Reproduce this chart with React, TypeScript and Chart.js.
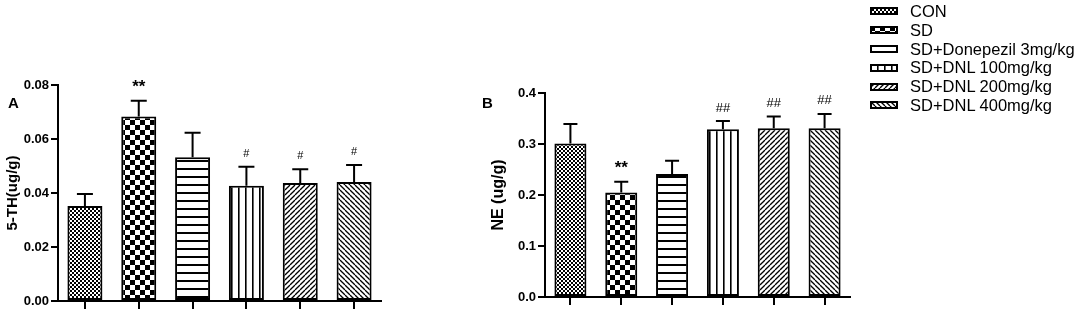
import React, { useEffect, useRef } from 'react';
import { Chart, registerables } from 'chart.js';
Chart.register(...registerables);

const groups = ['CON', 'SD', 'SD+Donepezil 3mg/kg', 'SD+DNL 100mg/kg', 'SD+DNL 200mg/kg', 'SD+DNL 400mg/kg'];
const htMeans = [0.0352, 0.0683, 0.0532, 0.0427, 0.0437, 0.0441];
const htSems = [0.0044, 0.0059, 0.0091, 0.0070, 0.0051, 0.0063];
const htMarks = ['', '**', '', '#', '#', '#'];
const neMeans = [0.301, 0.205, 0.241, 0.329, 0.331, 0.331];
const neSems = [0.038, 0.021, 0.026, 0.016, 0.023, 0.028];
const neMarks = ['', '**', '', '##', '##', '##'];

const FONT = '"Liberation Sans", Arial, sans-serif';

function tile(w: number, h: number, draw: (g: CanvasRenderingContext2D) => void) {
  const c = document.createElement('canvas');
  c.width = w; c.height = h;
  const g = c.getContext('2d')!;
  g.fillStyle = '#fff'; g.fillRect(0, 0, w, h);
  g.fillStyle = '#000'; g.strokeStyle = '#000';
  draw(g);
  return c;
}

function makeTiles() {
  return [
    tile(4, 4, g => { g.fillRect(0, 0, 2, 2); g.fillRect(2, 2, 2, 2); }),
    tile(10, 10, g => { g.fillRect(0, 0, 5, 5); g.fillRect(5, 5, 5, 5); }),
    tile(8, 8, g => { g.fillRect(0, 0, 8, 2); }),
    tile(7, 7, g => { g.fillRect(0, 0, 1.6, 7); }),
    tile(5, 5, g => { g.lineWidth = 1.3; for (const o of [-5, 0, 5]) { g.beginPath(); g.moveTo(o, 5); g.lineTo(o + 5, 0); g.stroke(); } }),
    tile(5, 5, g => { g.lineWidth = 1.3; for (const o of [-5, 0, 5]) { g.beginPath(); g.moveTo(o, 0); g.lineTo(o + 5, 5); g.stroke(); } }),
  ];
}

const errorPlugin = {
  id: 'errbars',
  afterDatasetsDraw(chart: any, _args: any, opts: any) {
    const { ctx } = chart;
    const meta = chart.getDatasetMeta(0);
    const y = chart.scales.y;
    ctx.save();
    ctx.strokeStyle = '#000';
    ctx.lineWidth = 2;
    meta.data.forEach((bar: any, i: number) => {
      const x = bar.x;
      const top = y.getPixelForValue(opts.means[i] + opts.sems[i]);
      ctx.beginPath();
      ctx.moveTo(x, bar.y);
      ctx.lineTo(x, top);
      ctx.moveTo(x - opts.cap / 2, top);
      ctx.lineTo(x + opts.cap / 2, top);
      ctx.stroke();
      const m = opts.marks[i];
      if (m) {
        ctx.fillStyle = '#000';
        ctx.textAlign = 'center';
        ctx.textBaseline = 'middle';
        if (m === '**') {
          ctx.font = `bold 17px ${FONT}`;
          ctx.fillText(m, x, top - 13);
        } else {
          ctx.font = `${m === '#' ? 11 : 13}px ${FONT}`;
          ctx.fillText(m, x, top - 13);
        }
      }
    });
    ctx.restore();
  },
};

function makeChart(canvas: HTMLCanvasElement, cfg: any) {
  const ctx = canvas.getContext('2d')!;
  const tiles = makeTiles();
  const pats = tiles.map(t => ctx.createPattern(t, 'repeat'));
  return new Chart(canvas, {
    type: 'bar',
    data: {
      labels: groups,
      datasets: [{
        data: cfg.means,
        backgroundColor: pats as any,
        borderColor: '#000',
        borderWidth: 2,
        borderSkipped: false,
        barPercentage: cfg.barPct,
        categoryPercentage: 1,
      }],
    },
    options: {
      animation: false,
      responsive: true,
      maintainAspectRatio: false,
      layout: { padding: cfg.padding },
      plugins: {
        legend: { display: false },
        tooltip: { enabled: false },
        errbars: { means: cfg.means, sems: cfg.sems, marks: cfg.marks, cap: cfg.cap },
      } as any,
      scales: {
        x: {
          type: 'category',
          offset: true,
          grid: { display: true, drawOnChartArea: false, drawTicks: true, tickLength: 8, color: '#000', lineWidth: 2, offset: false },
          border: { display: true, color: '#000', width: 2 },
          ticks: { display: false },
        },
        y: {
          min: 0,
          max: cfg.max,
          ticks: {
            stepSize: cfg.step,
            callback: (v: any) => Number(v).toFixed(cfg.dec),
            color: '#000',
            font: { family: FONT, size: 13, weight: 'bold' },
            padding: 2,
          },
          grid: { drawOnChartArea: false, drawTicks: true, tickLength: 7, color: '#000', lineWidth: 2 },
          border: { display: true, color: '#000', width: 2 },
          title: { display: true, text: cfg.title, color: '#000', font: { family: FONT, size: cfg.titleSize, weight: 'bold' }, padding: { top: 4, bottom: 0 } },
          afterFit: (s: any) => { s.width = cfg.yWidth; },
        },
      },
    },
    plugins: [errorPlugin],
  } as any);
}

function Swatch({ idx }: { idx: number }) {
  const ref = useRef<HTMLCanvasElement>(null);
  useEffect(() => {
    const c = ref.current!;
    const g = c.getContext('2d')!;
    const t = makeTiles()[idx];
    g.fillStyle = g.createPattern(t, 'repeat')!;
    g.fillRect(0, 0, 28, 8);
    g.strokeStyle = '#000';
    g.lineWidth = 2;
    g.strokeRect(1, 1, 26, 6);
  }, [idx]);
  return <canvas ref={ref} width={28} height={8} style={{ display: 'block' }} />;
}

export default function App() {
  const refA = useRef<HTMLCanvasElement>(null);
  const refB = useRef<HTMLCanvasElement>(null);
  useEffect(() => {
    document.body.style.margin = '0';
    const a = makeChart(refA.current!, {
      means: htMeans, sems: htSems, marks: htMarks, max: 0.08, step: 0.02, dec: 2,
      title: '5-TH(ug/g)', titleSize: 15, yWidth: 58, barPct: 0.65, cap: 16,
      padding: { top: 85, left: 0, right: 19, bottom: 2 },
    });
    const b = makeChart(refB.current!, {
      means: neMeans, sems: neSems, marks: neMarks, max: 0.4, step: 0.1, dec: 1,
      title: 'NE (ug/g)', titleSize: 16, yWidth: 60, barPct: 0.63, cap: 14,
      padding: { top: 93, left: 0, right: 15, bottom: 6 },
    });
    return () => { a.destroy(); b.destroy(); };
  }, []);
  return (
    <div style={{ position: 'relative', width: 1084, height: 311, background: '#fff', fontFamily: FONT, overflow: 'hidden' }}>
      <div style={{ position: 'absolute', left: 0, top: 0, width: 400, height: 311 }}>
        <canvas ref={refA} />
      </div>
      <div style={{ position: 'absolute', left: 485, top: 0, width: 380, height: 311 }}>
        <canvas ref={refB} />
      </div>
      <div style={{ position: 'absolute', left: 8, top: 94, fontSize: 15, fontWeight: 'bold' }}>A</div>
      <div style={{ position: 'absolute', left: 482, top: 94, fontSize: 15, fontWeight: 'bold' }}>B</div>
      <div style={{ position: 'absolute', left: 870, top: 2 }}>
        {groups.map((g, i) => (
          <div key={g} style={{ display: 'flex', alignItems: 'center', height: 18.8 }}>
            <Swatch idx={i} />
            <span style={{ marginLeft: 12, fontSize: 16.5, lineHeight: '18.8px', whiteSpace: 'nowrap', color: '#000' }}>{g}</span>
          </div>
        ))}
      </div>
    </div>
  );
}
